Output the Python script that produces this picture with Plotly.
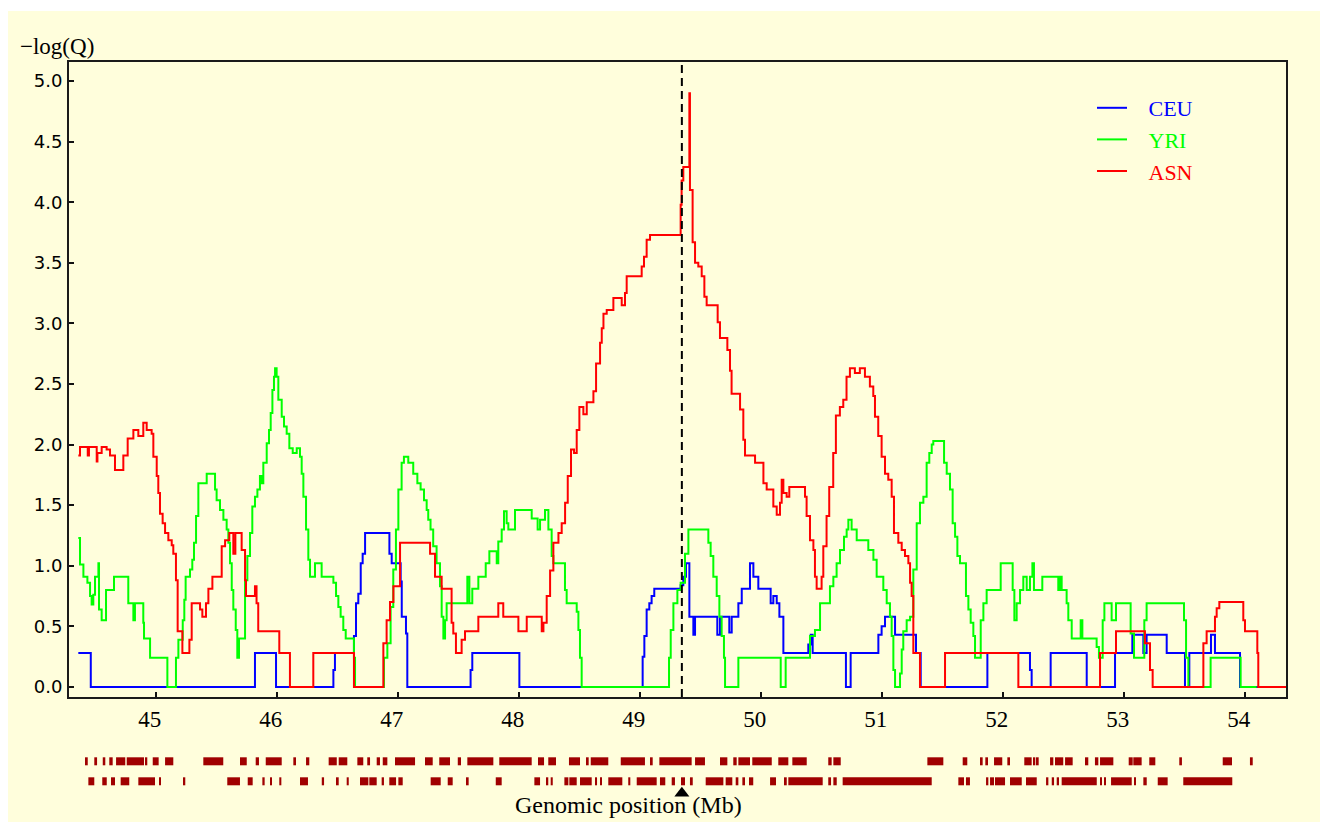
import plotly.graph_objects as go

# ---------------- data (Mb, -log(Q)) step series ----------------
ceu_steps = [(44.362,0.28),(44.465,0.00),(45.822,0.28),(45.996,0.00),(46.470,0.14),(46.483,0.28),
(46.640,0.42),(46.657,0.69),(46.676,0.77),(46.696,1.02),(46.712,1.10),(46.732,1.27),(46.933,1.10),
(46.952,1.02),(47.026,0.87),(47.035,0.58),(47.070,0.44),(47.081,0.00),(47.604,0.14),(47.618,0.28),
(48.007,0.00),(49.026,0.25),(49.040,0.42),(49.059,0.64),(49.081,0.69),(49.100,0.75),(49.122,0.81),
(49.340,0.84),(49.362,0.91),(49.384,1.02),(49.412,0.58),(49.445,0.43),(49.459,0.58),(49.643,0.43),
(49.665,0.58),(49.742,0.45),(49.762,0.58),(49.817,0.69),(49.845,0.81),(49.913,1.02),(49.941,0.91),
(49.982,0.81),(50.084,0.69),(50.106,0.75),(50.134,0.69),(50.156,0.58),(50.189,0.28),(50.395,0.35),
(50.415,0.43),(50.431,0.28),(50.706,0.00),(50.745,0.28),(50.974,0.43),(51.001,0.50),(51.029,0.58),
(51.112,0.43),(51.285,0.28),(51.324,0.00),(51.875,0.28),(52.227,0.14),(52.241,0.00),(52.398,0.28),
(52.696,0.00),(52.930,0.28),(53.073,0.43),(53.164,0.28),(53.191,0.43),(53.357,0.28),(53.508,0.00),
(53.544,0.28),(53.723,0.43),(53.756,0.28),(53.963,0.00),(54.114,0.00)]

yri_steps = [(44.362,1.23),(44.376,1.01),(44.404,0.91),(44.437,0.86),(44.459,0.75),(44.472,0.68),
(44.486,0.76),(44.500,0.91),(44.528,1.02),(44.533,0.64),(44.555,0.55),(44.591,0.80),(44.657,0.91),
(44.775,0.69),(44.817,0.55),(44.830,0.69),(44.899,0.53),(44.905,0.40),(44.955,0.24),(45.098,0.00),
(45.169,0.24),(45.189,0.39),(45.225,0.55),(45.238,0.72),(45.249,0.91),(45.285,0.97),(45.304,1.05),
(45.318,1.19),(45.335,1.41),(45.354,1.68),(45.423,1.76),(45.492,1.63),(45.505,1.54),(45.533,1.46),
(45.561,1.38),(45.588,1.30),(45.602,1.19),(45.616,1.02),(45.630,0.80),(45.643,0.64),(45.663,0.47),
(45.676,0.24),(45.690,0.40),(45.740,0.88),(45.759,1.08),(45.781,1.27),(45.800,1.49),(45.822,1.57),
(45.842,1.63),(45.863,1.74),(45.877,1.68),(45.891,1.85),(45.919,2.01),(45.938,2.12),(45.952,2.26),
(45.966,2.45),(45.979,2.56),(45.988,2.63),(46.001,2.56),(46.015,2.37),(46.043,2.23),(46.062,2.15),
(46.084,2.09),(46.106,1.97),(46.134,1.93),(46.167,1.97),(46.194,1.90),(46.208,1.76),(46.222,1.57),
(46.244,1.30),(46.263,1.05),(46.277,0.91),(46.318,1.02),(46.373,0.91),(46.470,0.86),(46.492,0.75),
(46.511,0.66),(46.530,0.58),(46.552,0.47),(46.572,0.40),(46.640,0.24),(46.649,0.00),(46.888,0.24),
(46.916,0.36),(46.943,0.66),(46.965,0.97),(46.987,1.30),(47.007,1.63),(47.034,1.85),(47.053,1.90),
(47.089,1.85),(47.130,1.76),(47.164,1.68),(47.191,1.63),(47.219,1.54),(47.241,1.46),(47.254,1.38),
(47.273,1.30),(47.295,1.16),(47.323,1.02),(47.351,0.83),(47.365,0.58),(47.379,0.40),(47.393,0.55),
(47.406,0.69),(47.577,0.91),(47.594,0.69),(47.618,0.81),(47.668,0.91),(47.729,1.02),(47.759,1.12),
(47.820,1.02),(47.833,1.20),(47.861,1.30),(47.880,1.45),(47.902,1.35),(47.916,1.30),(47.971,1.46),
(48.109,1.39),(48.158,1.30),(48.178,1.38),(48.219,1.46),(48.247,1.30),(48.274,1.08),(48.288,1.02),
(48.384,0.80),(48.398,0.69),(48.481,0.62),(48.495,0.47),(48.508,0.24),(48.522,0.00),(49.244,0.24),
(49.258,0.47),(49.280,0.69),(49.313,0.80),(49.340,0.86),(49.376,1.10),(49.404,1.30),(49.569,1.19),
(49.588,1.08),(49.610,0.91),(49.638,0.75),(49.660,0.58),(49.679,0.42),(49.698,0.24),(49.707,0.00),
(49.817,0.24),(50.167,0.00),(50.208,0.24),(50.409,0.42),(50.450,0.47),(50.492,0.69),(50.574,0.83),
(50.602,0.91),(50.629,1.02),(50.657,1.13),(50.690,1.24),(50.712,1.30),(50.726,1.38),(50.753,1.30),
(50.795,1.21),(50.891,1.13),(50.933,1.05),(50.960,0.91),(51.015,0.80),(51.043,0.69),(51.070,0.58),
(51.084,0.42),(51.098,0.14),(51.112,0.00),(51.153,0.11),(51.167,0.31),(51.180,0.46),(51.208,0.55),
(51.236,0.58),(51.263,0.97),(51.291,1.35),(51.318,1.52),(51.346,1.57),(51.373,1.85),(51.395,1.93),
(51.415,2.00),(51.428,2.03),(51.517,1.85),(51.539,1.76),(51.566,1.63),(51.588,1.35),(51.608,1.24),
(51.627,1.08),(51.649,1.02),(51.698,0.75),(51.718,0.64),(51.737,0.53),(51.759,0.42),(51.773,0.24),
(51.820,0.55),(51.842,0.69),(51.869,0.80),(51.985,1.02),(52.084,0.80),(52.098,0.55),(52.117,0.69),
(52.145,0.80),(52.172,0.91),(52.200,0.80),(52.227,0.91),(52.247,1.02),(52.260,0.80),(52.329,0.91),
(52.461,0.80),(52.475,0.91),(52.489,0.80),(52.530,0.69),(52.544,0.55),(52.572,0.40),(52.646,0.55),
(52.660,0.40),(52.778,0.33),(52.797,0.24),(52.828,0.55),(52.842,0.69),(52.902,0.55),(52.938,0.69),
(53.059,0.44),(53.087,0.24),(53.172,0.55),(53.191,0.69),(53.500,0.55),(53.517,0.24),(53.536,0.00),
(53.720,0.24),(53.968,0.00),(54.100,0.00)]

asn_steps = [(44.362,1.91),(44.376,1.98),(44.440,1.91),(44.450,1.98),(44.514,1.86),(44.520,1.93),
(44.555,1.98),(44.596,1.96),(44.624,1.91),(44.665,1.79),(44.734,1.91),(44.770,2.05),(44.817,2.12),
(44.858,2.07),(44.899,2.18),(44.927,2.12),(44.968,2.09),(44.982,1.90),(45.010,1.74),(45.023,1.60),
(45.037,1.43),(45.059,1.35),(45.079,1.27),(45.106,1.21),(45.134,1.17),(45.147,1.10),(45.169,0.88),
(45.183,0.46),(45.222,0.28),(45.280,0.39),(45.299,0.69),(45.368,0.64),(45.387,0.58),(45.417,0.69),
(45.437,0.81),(45.470,0.91),(45.547,1.16),(45.575,1.21),(45.610,1.27),(45.643,1.10),(45.660,1.27),
(45.712,1.13),(45.740,0.88),(45.748,0.75),(45.822,0.83),(45.835,0.69),(45.849,0.46),(46.023,0.28),
(46.111,0.00),(46.304,0.28),(46.640,0.00),(46.883,0.36),(46.910,0.55),(46.938,0.70),(46.966,0.83),
(47.021,1.19),(47.269,1.10),(47.310,0.91),(47.365,0.81),(47.447,0.53),(47.461,0.44),(47.483,0.28),
(47.530,0.39),(47.558,0.46),(47.668,0.58),(47.833,0.69),(47.874,0.58),(47.999,0.46),(48.068,0.58),
(48.192,0.46),(48.206,0.53),(48.233,0.75),(48.261,0.96),(48.288,1.19),(48.330,1.27),(48.357,1.35),
(48.385,1.52),(48.407,1.74),(48.434,1.96),(48.459,1.93),(48.481,2.12),(48.503,2.31),(48.536,2.25),
(48.564,2.35),(48.619,2.44),(48.641,2.67),(48.674,2.84),(48.688,2.96),(48.702,3.08),(48.729,3.11),
(48.784,3.21),(48.853,3.15),(48.880,3.25),(48.894,3.39),(49.018,3.47),(49.037,3.55),(49.059,3.69),
(49.087,3.73),(49.340,3.98),(49.348,4.18),(49.362,4.29),(49.412,4.90),(49.417,4.10),(49.439,3.67),
(49.459,3.50),(49.486,3.47),(49.514,3.39),(49.536,3.22),(49.555,3.15),(49.646,3.01),(49.665,2.88),
(49.726,2.78),(49.748,2.61),(49.761,2.42),(49.831,2.29),(49.858,2.04),(49.872,1.91),(49.955,1.85),
(50.024,1.68),(50.051,1.63),(50.106,1.49),(50.134,1.42),(50.161,1.52),(50.175,1.71),(50.189,1.60),
(50.216,1.57),(50.238,1.65),(50.368,1.57),(50.381,1.41),(50.409,1.21),(50.437,1.13),(50.450,0.91),
(50.464,0.81),(50.505,0.91),(50.519,1.16),(50.546,1.41),(50.568,1.65),(50.601,1.93),(50.623,2.24),
(50.656,2.31),(50.684,2.37),(50.711,2.56),(50.739,2.63),(50.780,2.59),(50.821,2.63),(50.863,2.56),
(50.904,2.48),(50.932,2.40),(50.946,2.23),(50.973,2.07),(51.001,1.90),(51.029,1.76),(51.056,1.71),
(51.084,1.57),(51.103,1.27),(51.139,1.19),(51.167,1.13),(51.194,1.08),(51.222,1.02),(51.236,0.86),
(51.249,0.75),(51.263,0.28),(51.318,0.00),(51.525,0.28),(52.131,0.00),(52.806,0.28),(52.938,0.46),
(53.177,0.36),(53.219,0.14),(53.241,0.00),(53.660,0.36),(53.687,0.46),(53.756,0.58),(53.770,0.65),
(53.792,0.70),(53.990,0.55),(54.004,0.46),(54.106,0.28),(54.114,0.00),(54.380,0.00)]

# marker tracks below the axis (start Mb, end Mb)
track_upper = [(44.417,44.440),(44.494,44.517),(44.564,44.585),(44.618,44.646),(44.674,44.750),
(44.762,44.905),(44.916,44.932),(44.977,45.026),(45.079,45.147),(45.395,45.560),(45.698,45.754),
(45.828,45.855),(45.911,46.043),(46.139,46.161),(46.244,46.271),(46.431,46.498),(46.514,46.585),
(46.668,46.717),(46.750,46.773),(46.828,46.855),(46.878,46.916),(46.979,47.145),(47.227,47.291),
(47.345,47.434),(47.498,47.525),(47.577,47.792),(47.841,48.109),(48.161,48.211),(48.246,48.310),
(48.417,48.508),(48.564,48.580),(48.597,48.742),(48.845,49.045),(49.093,49.109),(49.164,49.431),
(49.459,49.541),(49.665,49.726),(49.775,49.803),(49.817,49.913),(49.932,50.093),(50.147,50.230),
(50.263,50.382),(50.560,50.588),(50.602,50.663),(51.379,51.511),(51.671,51.709),(51.814,51.836),
(51.858,51.880),(51.930,51.998),(52.040,52.062),(52.180,52.241),(52.255,52.271),(52.283,52.299),
(52.393,52.420),(52.434,52.502),(52.517,52.580),(52.682,52.709),(52.764,52.792),(52.806,52.916),
(53.043,53.076),(53.081,53.150),(53.213,53.263),(53.461,53.483),(53.820,53.897),(54.045,54.068)]

track_lower = [(44.445,44.494),(44.560,44.597),(44.632,44.665),(44.712,44.783),(44.858,44.996),
(45.031,45.045),(45.230,45.246),(45.593,45.698),(45.762,45.803),(45.883,45.902),(45.946,45.963),
(46.023,46.040),(46.194,46.260),(46.374,46.393),(46.498,46.514),(46.580,46.597),(46.690,46.759),
(46.767,46.828),(46.869,46.888),(46.932,46.988),(47.007,47.043),(47.274,47.357),(47.415,47.456),
(47.566,47.588),(47.812,47.861),(48.131,48.178),(48.230,48.246),(48.266,48.283),(48.379,48.412),
(48.420,48.481),(48.508,48.605),(48.632,48.649),(48.674,48.690),(48.742,48.858),(48.907,48.924),
(48.977,49.142),(49.169,49.213),(49.266,49.293),(49.343,49.376),(49.417,49.440),(49.547,49.693),
(49.712,49.767),(49.795,49.817),(49.850,49.872),(49.905,49.940),(50.079,50.128),(50.202,50.217),
(50.230,50.514),(50.560,50.583),(50.602,50.630),(50.679,51.415),(51.635,51.682),(51.698,51.731),
(51.864,51.883),(51.897,51.930),(51.938,52.021),(52.062,52.159),(52.194,52.283),(52.360,52.379),
(52.407,52.426),(52.448,52.467),(52.489,52.779),(52.806,52.822),(52.839,52.855),(52.897,53.068),
(53.087,53.103),(53.164,53.192),(53.283,53.365),(53.494,53.899)]

marker_position = 49.35
x_ticks = [45, 46, 47, 48, 49, 50, 51, 52, 53, 54]
y_ticks = [0.0, 0.5, 1.0, 1.5, 2.0, 2.5, 3.0, 3.5, 4.0, 4.5, 5.0]

series = [("CEU", "#0000FF", ceu_steps), ("YRI", "#00FF00", yri_steps), ("ASN", "#FF0000", asn_steps)]

BG = "#FFFEDC"
SERIF = "Liberation Serif, Times New Roman, serif"
NB = "\u00a0"

fig = go.Figure()
for name, color, pts in series:
    fig.add_trace(go.Scatter(
        x=[p[0] for p in pts], y=[p[1] for p in pts], mode="lines", line_shape="hv",
        line=dict(color=color, width=2),
        name=f'{NB * 3}<span style="color:{color}">{name}</span>'))

for row, segs in ((1, track_upper), (0, track_lower)):
    fig.add_trace(go.Bar(
        orientation="h", base=[s[0] for s in segs], x=[s[1] - s[0] for s in segs],
        y=[row] * len(segs), width=0.4, marker=dict(color="#A00000", line=dict(width=0)),
        xaxis="x2", yaxis="y2", showlegend=False, hoverinfo="skip"))

fig.add_trace(go.Scatter(
    x=[marker_position], y=[-0.6], mode="markers", xaxis="x2", yaxis="y2",
    marker=dict(symbol="triangle-up", size=13, color="black"), cliponaxis=False,
    showlegend=False, hoverinfo="skip"))

fig.add_shape(type="line", xref="x", yref="y domain", x0=marker_position, x1=marker_position,
              y0=0, y1=1, line=dict(color="black", width=2, dash="8px,5px"))

# thin white strip at the very top of the original picture
fig.add_shape(type="rect", xref="paper", yref="paper", x0=-0.1, x1=1.1,
              y0=(800 - 11) / 738, y1=1.2, fillcolor="white", line=dict(width=0), layer="below")

fig.add_annotation(text="−log(Q)", xref="paper", yref="paper", x=(18 - 69) / 1217, y=(800 - 46) / 738,
                   xanchor="left", yanchor="middle", showarrow=False,
                   font=dict(family=SERIF, size=23, color="black"))
fig.add_annotation(text="Genomic position (Mb)", xref="paper", yref="paper", x=(628.5 - 69) / 1217,
                   y=(800 - 805) / 738, xanchor="center", yanchor="middle", showarrow=False,
                   font=dict(family=SERIF, size=24, color="black"))

fig.update_layout(
    width=1320, height=814, margin=dict(l=61, r=42, t=54, b=22, pad=0),
    paper_bgcolor=BG, plot_bgcolor=BG,
    font=dict(family=SERIF, color="black"),
    showlegend=True,
    legend=dict(x=(1092 - 69) / 1217, y=(800 - 87) / 738, xanchor="left", yanchor="top",
                bgcolor="rgba(0,0,0,0)", font=dict(family=SERIF, size=22), itemwidth=30,
                tracegroupgap=0),
    xaxis=dict(domain=[0, 1], anchor="y", range=[44.285, 54.343], tickvals=x_ticks,
               ticktext=[f"{v}{NB * 2}" for v in x_ticks], ticks="inside", ticklen=5, tickwidth=1.5,
               tickcolor="#111", showline=True, mirror=True, linecolor="#1a1a1a", linewidth=2,
               showgrid=False, zeroline=False, tickfont=dict(family=SERIF, size=23, color="black"),
               ticklabelstandoff=0),
    yaxis=dict(domain=[103 / 738, 1], anchor="x", range=[-0.083, 5.157], tickvals=y_ticks,
               ticktext=[f"{v:.1f}" for v in y_ticks], ticks="inside", ticklen=5, tickwidth=1.5,
               tickcolor="#111", showline=True, mirror=True, linecolor="#1a1a1a", linewidth=2,
               showgrid=False, zeroline=False,
               tickfont=dict(family="DejaVu Sans, Verdana, sans-serif", size=18, color="black"),
               ticklabelstandoff=1),
    xaxis2=dict(matches="x", anchor="y2", visible=False, domain=[0, 1]),
    yaxis2=dict(domain=[0, 52 / 738], anchor="x2", range=[-0.935, 1.665], visible=False),
    barmode="overlay",
)

fig.write_html("out.html")
